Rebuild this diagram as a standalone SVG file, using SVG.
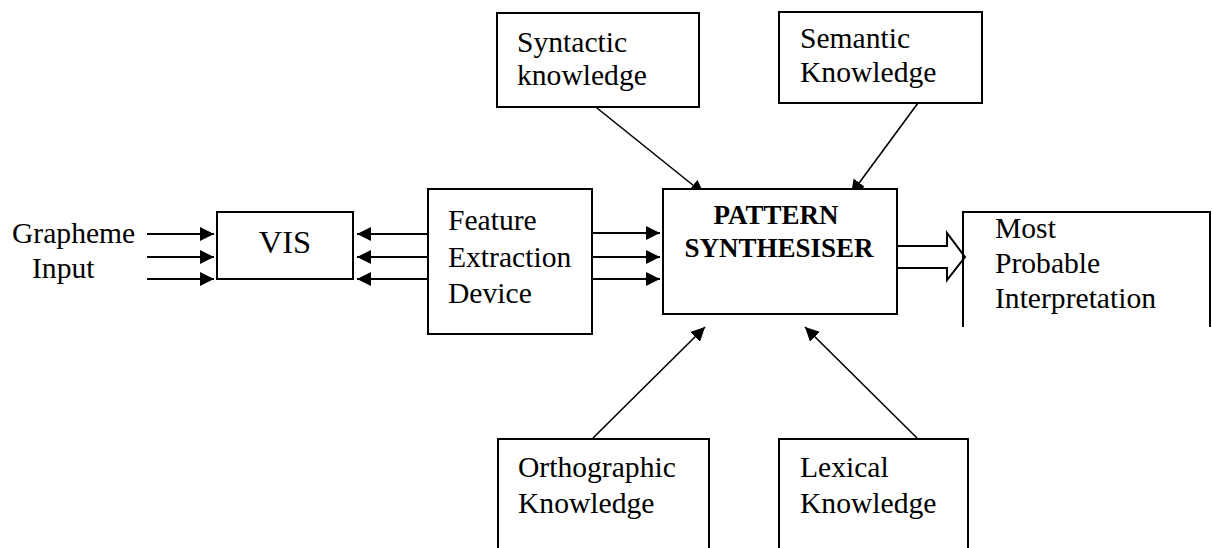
<svg xmlns="http://www.w3.org/2000/svg" width="1212" height="548" viewBox="0 0 1212 548">
<style>
.box{fill:#fff;stroke:#000;stroke-width:2}
.open{fill:none;stroke:#000;stroke-width:2}
text{font-family:'Liberation Serif','DejaVu Serif',serif;fill:#000}
.t{font-size:29.6px}
.b{font-size:27px;font-weight:bold}
.c{stroke:#000;stroke-width:2;fill:none}
.d{stroke:#000;stroke-width:1.6;fill:none}
</style>
<defs>
<marker id="ah" markerUnits="userSpaceOnUse" markerWidth="16" markerHeight="14" refX="14" refY="7" orient="auto">
<path d="M0,0 L14,7 L0,14 Z" fill="#000"/>
</marker>
</defs>
<rect width="1212" height="548" fill="#fff"/>
<g id="connectors">
<line class="c" x1="147" y1="234" x2="214" y2="234" marker-end="url(#ah)"/>
<line class="c" x1="147" y1="257" x2="214" y2="257" marker-end="url(#ah)"/>
<line class="c" x1="147" y1="279" x2="214" y2="279" marker-end="url(#ah)"/>
<line class="c" x1="428" y1="234" x2="357" y2="234" marker-end="url(#ah)"/>
<line class="c" x1="428" y1="257" x2="357" y2="257" marker-end="url(#ah)"/>
<line class="c" x1="428" y1="279" x2="357" y2="279" marker-end="url(#ah)"/>
<line class="c" x1="592" y1="233" x2="660" y2="233" marker-end="url(#ah)"/>
<line class="c" x1="592" y1="257" x2="660" y2="257" marker-end="url(#ah)"/>
<line class="c" x1="592" y1="279" x2="660" y2="279" marker-end="url(#ah)"/>
<line class="d" x1="592" y1="104" x2="704" y2="194" marker-end="url(#ah)"/>
<line class="d" x1="918" y1="103" x2="851" y2="194" marker-end="url(#ah)"/>
<line class="d" x1="593" y1="438" x2="705" y2="327" marker-end="url(#ah)"/>
<line class="d" x1="917" y1="438" x2="805" y2="327" marker-end="url(#ah)"/>
<path d="M897,246 H947 V233 L965,257 L947,280 V268 H897" fill="#fff" stroke="#000" stroke-width="2"/>
</g>
<g id="grapheme">
<text class="t" x="12" y="243">Grapheme</text>
<text class="t" x="32" y="278">Input</text>
</g>
<g id="vis">
<rect class="box" x="217" y="212" width="136" height="67"/>
<text class="t" x="285" y="253" text-anchor="middle" style="font-size:32.5px">VIS</text>
</g>
<g id="feature">
<rect class="box" x="428" y="189" width="164" height="145"/>
<text class="t" x="448" y="230">Feature</text>
<text class="t" x="448" y="267">Extraction</text>
<text class="t" x="448" y="303">Device</text>
</g>
<g id="pattern">
<rect class="box" x="663" y="189" width="234" height="125"/>
<text class="b" x="776" y="224" text-anchor="middle">PATTERN</text>
<text class="b" x="779" y="257" text-anchor="middle">SYNTHESISER</text>
</g>
<g id="syntactic">
<rect class="box" x="497" y="13" width="202" height="94"/>
<text class="t" x="517" y="52">Syntactic</text>
<text class="t" x="517" y="85">knowledge</text>
</g>
<g id="semantic">
<rect class="box" x="779" y="12" width="203" height="91"/>
<text class="t" x="800" y="48">Semantic</text>
<text class="t" x="800" y="82">Knowledge</text>
</g>
<g id="most">
<path class="open" d="M963,327 V212 H1210 V327"/>
<text class="t" x="995" y="238">Most</text>
<text class="t" x="995" y="273">Probable</text>
<text class="t" x="995" y="308">Interpretation</text>
</g>
<g id="orthographic">
<path class="open" d="M498,548 V439 H709 V548"/>
<text class="t" x="518" y="477">Orthographic</text>
<text class="t" x="518" y="513">Knowledge</text>
</g>
<g id="lexical">
<path class="open" d="M779,548 V439 H968 V548"/>
<text class="t" x="800" y="477">Lexical</text>
<text class="t" x="800" y="513">Knowledge</text>
</g>
</svg>
